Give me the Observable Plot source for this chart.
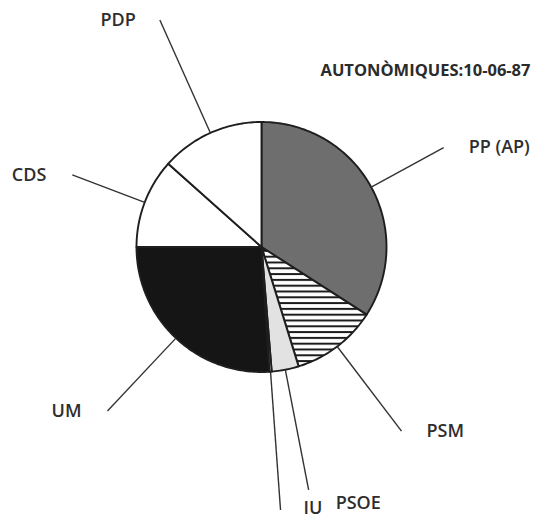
<!DOCTYPE html>
<html><head><meta charset="utf-8">
<script src="https://cdn.jsdelivr.net/npm/d3@7"></script>
<script src="https://cdn.jsdelivr.net/npm/@observablehq/plot@0.6"></script>
<style>body{margin:0;background:#fff} #chart svg{display:block}</style>
</head><body>
<svg width="0" height="0" style="position:absolute">
<defs>
<pattern id="hatch" patternUnits="userSpaceOnUse" width="10" height="5.8">
<rect width="10" height="5.8" fill="#fff"/>
<rect y="0" width="10" height="2" fill="#1c1c1c"/>
</pattern>
</defs></svg>
<div id="chart"></div>
<script>
// Data
const parties = ["PP (AP)", "PSM", "PSOE", "IU", "UM", "CDS", "PDP"];
const shares = [34.1, 11.1, 3.5, 0.3, 26.0, 11.6, 13.4];
const fills = ["#6e6e6e", "url(#hatch)", "#e2e2e2", "#e2e2e2", "#151515", "#ffffff", "#ffffff"];
// Layout (leader length in pie radii, label offset in px)
const leaderLength = [1.66, 1.85, 1.98, 2.11, 1.80, 1.62, 1.99];
const labelOffset = [[25, 0], [25, 0], [27, 13], [23, -2], [-26, 0], [-26, 0], [-24, 0]];
const title = "AUTONÒMIQUES:10-06-87";

const W = 541, H = 522, CX = 261, CY = 246.5, R = 125;

const total = d3.sum(shares);
let acc = 0;
const slices = parties.map((p, i) => {
  const a0 = acc / total * 2 * Math.PI;
  acc += shares[i];
  const a1 = acc / total * 2 * Math.PI;
  return {party: p, i, a0, a1, mid: (a0 + a1) / 2};
});
const wedgePts = slices.flatMap(s => {
  const n = Math.max(2, Math.ceil((s.a1 - s.a0) / (Math.PI / 180)));
  const pts = [{party: s.party, x: 0, y: 0}];
  for (let k = 0; k <= n; k++) {
    const a = s.a0 + (s.a1 - s.a0) * k / n;
    pts.push({party: s.party, x: Math.sin(a), y: Math.cos(a)});
  }
  pts.push({party: s.party, x: 0, y: 0});
  return pts;
});

const labelMarks = slices.map(s => Plot.text([s], {
  x: d => leaderLength[d.i] * Math.sin(d.mid),
  y: d => leaderLength[d.i] * Math.cos(d.mid),
  text: "party",
  dx: labelOffset[s.i][0],
  dy: labelOffset[s.i][1],
  textAnchor: labelOffset[s.i][0] > 0 ? "start" : "end",
  fontSize: 18,
  fontWeight: 600,
  fill: "#2e2e2e"
}));

const chart = Plot.plot({
  width: W, height: H,
  margin: 0,
  x: {domain: [-CX / R, (W - CX) / R], axis: null},
  y: {domain: [-(H - CY) / R, CY / R], axis: null},
  color: {domain: parties, range: fills},
  style: {fontFamily: "'Open Sans', sans-serif", background: "#fff"},
  marks: [
    Plot.line(wedgePts, {x: "x", y: "y", z: "party", fill: "party", stroke: "#1e1e1e", strokeWidth: 1.9, strokeLinejoin: "round", curve: "linear"}),
    Plot.link(slices, {
      x1: d => Math.sin(d.mid), y1: d => Math.cos(d.mid),
      x2: d => leaderLength[d.i] * Math.sin(d.mid), y2: d => leaderLength[d.i] * Math.cos(d.mid),
      stroke: "#333", strokeWidth: 1.4
    }),
    ...labelMarks,
    Plot.text([title], {frameAnchor: "top-right", dx: -11, dy: 70, lineAnchor: "middle", text: d => d, fontWeight: "bold", fontSize: 16.5, fill: "#2b2b2b"})
  ]
});
document.getElementById("chart").appendChild(chart);
</script>
</body></html>
